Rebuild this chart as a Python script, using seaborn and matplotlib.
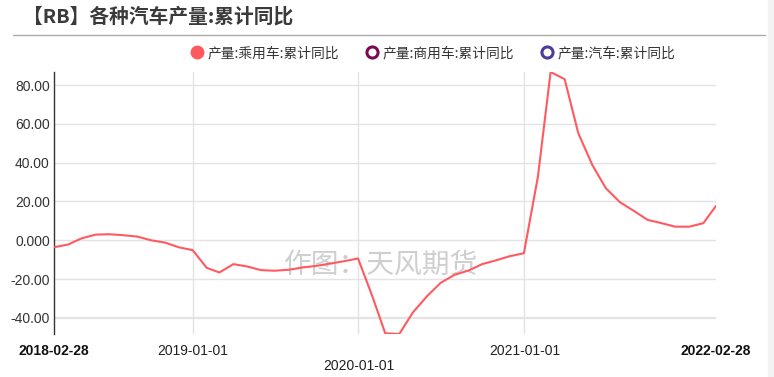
import numpy as np
import pandas as pd
import seaborn as sns
import matplotlib.pyplot as plt
from matplotlib.lines import Line2D
from matplotlib.patches import Rectangle

# Data: monthly cumulative YoY (%)
dates = pd.date_range('2018-02-28', '2022-02-28', freq='ME')
passenger = [
    -3.6, -2.2, 1.0, 2.9, 3.1, 2.6, 1.9, 0.0, -1.2, -3.6, -5.1,             # 2018-02..12
    -14.2, -16.6, -12.3, -13.5, -15.4, -15.7, -15.2, -14.0, -13.2, -12.0,   # 2019-01..10
    -10.8, -9.4,                                                             # 2019-11..12
    -28.5, -47.9, -48.3, -37.2, -28.9, -22.0, -17.8, -15.6, -12.3, -10.3,   # 2020-01..10
    -8.2, -6.7,                                                              # 2020-11..12
    32.8, 86.7, 83.0, 55.2, 38.8, 26.8, 19.6, 15.1, 10.5, 8.8, 7.0, 7.0,    # 2021
    8.8, 17.7,                                                               # 2022-01..02
]
series_names = ['产量:乘用车:累计同比', '产量:商用车:累计同比', '产量:汽车:累计同比']
series_colors = ['#ff5a5f', '#7a0a52', '#4b3c9c']
y_ticks = [-40, -20, 0, 20, 40, 60, 80]
y_labels = ['-40.00', '-20.00', '0.000', '20.00', '40.00', '60.00', '80.00']
x_ticks = ['2018-02-28', '2019-01-01', '2020-01-01', '2021-01-01', '2022-02-28']

df = pd.DataFrame({'date': dates, 'value': passenger})

sns.set_theme(style='white')
plt.rcParams['font.family'] = ['Liberation Sans', 'Noto Sans CJK SC']

W, H = 774, 377
fig = plt.figure(figsize=(W / 100, H / 100), dpi=100)
ax = fig.add_axes([54 / W, 1 - 334 / H, (716 - 54) / W, (334 - 72) / H])

sns.lineplot(data=df, x='date', y='value', ax=ax, color=series_colors[0], linewidth=1.5, zorder=3)

ax.set_xlim(pd.Timestamp(x_ticks[0]), pd.Timestamp(x_ticks[-1]))
ax.set_ylim(min(passenger), max(passenger))

# grid
for yt in y_ticks:
    ax.axhline(yt, color='#e3e3e3', lw=1.6 if yt == -40 else 1.0, zorder=1)
for xt in x_ticks[1:-1]:
    ax.axvline(pd.Timestamp(xt), color='#e3e3e3', lw=1.0, zorder=1)

ax.set_yticks(y_ticks)
ax.set_yticklabels(y_labels, fontsize=10, color='#333333')
ax.set_xticks([pd.Timestamp(t) for t in x_ticks])
ax.set_xticklabels(x_ticks, fontsize=10, color='#222222')
ax.tick_params(axis='both', length=0)
ax.tick_params(axis='y', pad=3)
ax.tick_params(axis='x', pad=7)
for i, lab in enumerate(ax.get_xticklabels()):
    if i in (0, len(x_ticks) - 1):
        lab.set_fontweight('bold')
        lab.set_color('#111111')
ax.xaxis.get_major_ticks()[2].set_pad(18)

ax.set_xlabel('')
ax.set_ylabel('')
for s in ['top', 'right', 'bottom']:
    ax.spines[s].set_visible(False)
ax.spines['left'].set_color('#333333')
ax.spines['left'].set_linewidth(1.0)

# watermark
ax.text(381 / W, 1 - 265 / H, '作图：天风期货', transform=fig.transFigure,
        ha='center', va='center', fontsize=20, color='#cfcfcf',
        family=['Noto Sans CJK SC'], zorder=2)

# legend
handles = [
    Line2D([], [], ls='', marker='o', markersize=9, markerfacecolor=series_colors[0],
           markeredgecolor=series_colors[0]),
    Line2D([], [], ls='', marker='o', markersize=8, markerfacecolor='white',
           markeredgecolor=series_colors[1], markeredgewidth=2.2),
    Line2D([], [], ls='', marker='o', markersize=8, markerfacecolor='white',
           markeredgecolor=series_colors[2], markeredgewidth=2.2),
]
leg = fig.legend(handles, series_names, loc='center', bbox_to_anchor=(433 / W, 1 - 53 / H),
                 ncol=3, frameon=False, handlelength=0.9, handletextpad=0.35,
                 columnspacing=1.9, prop={'family': ['Noto Sans CJK SC'], 'size': 9.9})
for t in leg.get_texts():
    t.set_color('#333333')

# title and separator
fig.text(23 / W, 1 - 17 / H, '【RB】各种汽车产量:累计同比', ha='left', va='center',
         fontsize=14.2, fontweight='bold', color='#3a3a3a', family=['Noto Sans CJK SC'])
fig.add_artist(Line2D([13 / W, 765 / W], [1 - 34.5 / H, 1 - 34.5 / H],
                      transform=fig.transFigure, color='#aaaaaa', lw=1.0))
fig.patches.append(Rectangle((768 / W, 0), 6 / W, 1, transform=fig.transFigure,
                             color='#f3f3f3', zorder=0))

fig.savefig('out.png', dpi=100)
